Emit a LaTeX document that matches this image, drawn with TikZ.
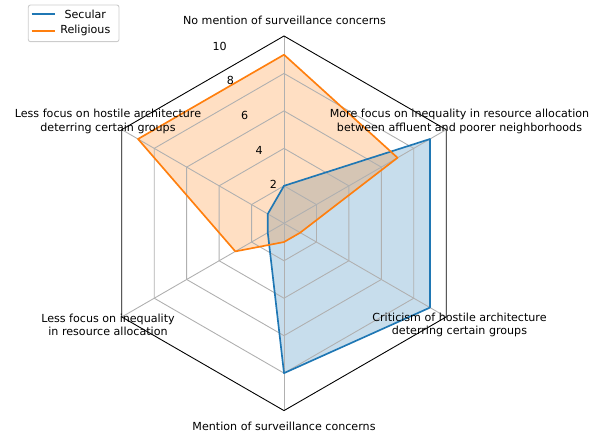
\documentclass[tikz,border=0pt]{standalone}
\usepackage{fontspec}
\setmainfont{DejaVu Sans}
\usepackage{xcolor}
\usepackage{tikz}
\definecolor{secblue}{HTML}{1F77B4}
\definecolor{relorange}{HTML}{FF7F0E}
\definecolor{gridgray}{HTML}{B0B0B0}
\definecolor{legendgray}{HTML}{CCCCCC}
\tikzstyle{axislabel} = [align=center, inner sep=0pt, font=\fontsize{10}{12.1}\selectfont]
\tikzstyle{ticklabel} = [anchor=base west, inner sep=0pt, font=\fontsize{10}{12.1}\selectfont]
\tikzstyle{legendtext} = [anchor=west, inner sep=0pt, font=\fontsize{10}{12.1}\selectfont]
\tikzstyle{gridline} = [draw=gridgray, line width=0.8pt]
\tikzstyle{frameline} = [draw=black, line width=0.8pt, line join=miter]
\tikzstyle{secline} = [draw=secblue, line width=1.5pt, line join=round]
\tikzstyle{relline} = [draw=relorange, line width=1.5pt, line join=round]

\begin{document}
\begin{tikzpicture}[x=0.9pt, y=0.9pt, node distance=15pt]
	\useasboundingbox (0,0) rectangle (597,436);
	\coordinate (c) at (284,212.7);

	\begin{scope}[shift={(c)}, x=16.857pt, y=16.857pt]
		% filled areas
		\fill [secblue, fill opacity=0.25] (90:2) -- (150:1) -- (210:1) -- (270:8) -- (330:9) -- (30:9) -- cycle;
		\fill [relorange, fill opacity=0.25] (90:9) -- (150:9) -- (210:3) -- (270:1) -- (330:1) -- (30:7) -- cycle;

		% grid
		\foreach \r in {2,4,6,8}
			\draw [gridline] (90:\r) -- (150:\r) -- (210:\r) -- (270:\r) -- (330:\r) -- (30:\r) -- cycle;
		\foreach \a in {30,90,...,330}
			\draw [gridline] (0,0) -- (\a:10);
		\draw [frameline] (90:10) -- (150:10) -- (210:10) -- (270:10) -- (330:10) -- (30:10) -- cycle;

		% data
		\draw [secline] (90:2) -- (150:1) -- (210:1) -- (270:8) -- (330:9) -- (30:9) -- cycle;
		\draw [relline] (90:9) -- (150:9) -- (210:3) -- (270:1) -- (330:1) -- (30:7) -- cycle;

		\node (tick2) [ticklabel] at (112.5:2) {2};
		\node (tick4) [ticklabel] at (112.5:4) {4};
		\node (tick6) [ticklabel] at (112.5:6) {6};
		\node (tick8) [ticklabel] at (112.5:8) {8};
		\node (tick10) [ticklabel] at (112.5:10) {10};
	\end{scope}

	\node (nomention) [axislabel] at (284.5,415.5) {No mention of surveillance concerns};
	\node (lesshostile) [axislabel] at (108,314.4) {Less focus on hostile architecture\\deterring certain groups};
	\node (moreineq) [axislabel] at (459.5,314.4) {More focus on inequality in resource allocation\\between affluent and poorer neighborhoods};
	\node (lessineq) [axislabel] at (108,111) {Less focus on inequality\\in resource allocation};
	\node (criticism) [axislabel] at (459.5,111) {Criticism of hostile architecture\\deterring certain groups};
	\node (mention) [axislabel] at (284,9.3) {Mention of surveillance concerns};

	% legend
	\draw [legendgray, line width=0.8pt, fill=white, fill opacity=0.8, rounded corners=2pt] (28.3,394.3) rectangle (119,431);
	\node (secular) [legendtext] at (64.3,422) {Secular};
	\node (religious) [legendtext, below of=secular] {Religious};
	\coordinate (secA) at (31.7,422);
	\coordinate (secB) at (55,422);
	\coordinate (relA) at (31.7,405.3);
	\coordinate (relB) at (55,405.3);
	\draw [secline] (secA) -- (secB);
	\draw [relline] (relA) -- (relB);
\end{tikzpicture}
\end{document}
